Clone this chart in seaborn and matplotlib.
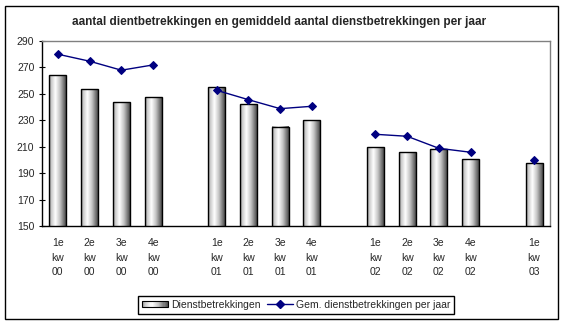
import numpy as np
import pandas as pd
import matplotlib
matplotlib.use("Agg")
import matplotlib.pyplot as plt
import seaborn as sns
from matplotlib.patches import Rectangle
from matplotlib.lines import Line2D
from matplotlib.legend_handler import HandlerBase
from matplotlib.colors import LinearSegmentedColormap

# ---- data ----
labels = ["1e\nkw\n00", "2e\nkw\n00", "3e\nkw\n00", "4e\nkw\n00", "",
          "1e\nkw\n01", "2e\nkw\n01", "3e\nkw\n01", "4e\nkw\n01", "",
          "1e\nkw\n02", "2e\nkw\n02", "3e\nkw\n02", "4e\nkw\n02", "",
          "1e\nkw\n03"]
year = ["00", "00", "00", "00", "g1",
        "01", "01", "01", "01", "g2",
        "02", "02", "02", "02", "g3",
        "03"]
dienst = [264, 253.5, 243.6, 247.4, np.nan,
          255, 242, 225.2, 230, np.nan,
          209.6, 205.8, 208, 200.5, np.nan,
          197.5]
gem = [280, 274.7, 267.9, 271.9, np.nan,
       252.7, 245.6, 238.8, 240.6, np.nan,
       219.4, 217.9, 208.8, 205.8, np.nan,
       199.7]
yticks = [150, 170, 190, 210, 230, 250, 270, 290]
title = "aantal dientbetrekkingen en gemiddeld aantal dienstbetrekkingen per jaar"
leg_bar = "Dienstbetrekkingen"
leg_line = "Gem. dienstbetrekkingen per jaar"

pos = list(range(len(labels)))
df = pd.DataFrame({"pos": pos, "label": labels, "year": year,
                   "dienst": dienst, "gem": gem})

sns.set_theme(style="white")
plt.rcParams["font.family"] = ["Liberation Sans", "DejaVu Sans"]
FS = 7.5
YMIN, YMAX = yticks[0], yticks[-1]

fig = plt.figure(figsize=(5.65, 3.25), dpi=100)
ax = fig.add_axes([42 / 565, 1 - 226 / 325, 508 / 565, 185 / 325])

sns.barplot(data=df, x="pos", y="dienst", order=pos, width=0.53,
            color="white", edgecolor="black", linewidth=1.0, ax=ax,
            errorbar=None, zorder=2)

grad_cmap = LinearSegmentedColormap.from_list(
    "cyl", [(0.0, "#8a8a8a"), (0.12, "#c8c8c8"), (0.38, "#ffffff"),
            (0.65, "#c4c4c4"), (1.0, "#4c4c4c")])
grad = np.linspace(0, 1, 64).reshape(1, -1)

for p in list(ax.patches):
    h = p.get_height()
    if not np.isfinite(h) or h == 0:
        continue
    x0 = p.get_x()
    w = p.get_width()
    p.set_facecolor("none")
    p.set_zorder(3)
    ax.imshow(grad, cmap=grad_cmap, aspect="auto",
              extent=[x0, x0 + w, YMIN, h], zorder=2.2,
              interpolation="bilinear")

line_df = df.dropna(subset=["gem"])
sns.lineplot(data=line_df, x="pos", y="gem", units="year", estimator=None,
             color="#000080", linewidth=1.0, marker="D", markersize=4.5,
             markeredgecolor="#000080", markerfacecolor="#000080",
             legend=False, ax=ax, zorder=4)

ax.set_xlim(-0.5, len(labels) - 0.5)
ax.set_ylim(YMIN, YMAX)
ax.set_yticks(yticks)
ax.set_yticklabels([str(v) for v in yticks], fontsize=FS)
ax.set_xticks(pos)
ax.set_xticklabels(labels, fontsize=FS, linespacing=1.55)
ax.set_xticks(np.arange(-0.5, len(labels), 1.0), minor=True)
ax.tick_params(axis="x", which="major", length=0, pad=9)
ax.tick_params(axis="x", which="minor", length=5, width=0.8,
               direction="inout", color="black")
ax.tick_params(axis="y", which="major", length=5, width=0.8,
               direction="inout", color="black", pad=3, left=True)
ax.set_xlabel("")
ax.set_ylabel("")
for side in ["left", "bottom"]:
    ax.spines[side].set_color("black")
    ax.spines[side].set_linewidth(1.0)
for side in ["top", "right"]:
    ax.spines[side].set_visible(True)
    ax.spines[side].set_color("#808080")
    ax.spines[side].set_linewidth(1.0)
ax.grid(False)

fig.text(279 / 565, 1 - 22 / 325, title, ha="center", va="center",
         fontsize=8.5, fontweight="bold")

# outer frame
fig.patches.append(Rectangle((5 / 565, 1 - 319 / 325), 553 / 565, 313 / 325,
                             transform=fig.transFigure, fill=False,
                             edgecolor="black", linewidth=1.0))


class GradientHandler(HandlerBase):
    def create_artists(self, legend, orig_handle, xdescent, ydescent,
                       width, height, fontsize, trans):
        arts = []
        n = 24
        hh = height * 0.8
        y0 = -ydescent + (height - hh) / 2
        for i in range(n):
            c = grad_cmap((i + 0.5) / n)
            arts.append(Rectangle((-xdescent + width * i / n, y0), width / n, hh,
                                  facecolor=c, edgecolor="none", transform=trans))
        arts.append(Rectangle((-xdescent, y0), width, hh, facecolor="none",
                              edgecolor="black", linewidth=0.8, transform=trans))
        return arts


bar_handle = Rectangle((0, 0), 1, 1)
line_handle = Line2D([], [], color="#000080", linewidth=1.0, marker="D",
                     markersize=4.5, markerfacecolor="#000080",
                     markeredgecolor="#000080")
leg = fig.legend([bar_handle, line_handle], [leg_bar, leg_line],
                 handler_map={Rectangle: GradientHandler()},
                 loc="center", bbox_to_anchor=(296 / 565, 1 - 305 / 325),
                 ncol=2, fontsize=FS, frameon=True, fancybox=False,
                 edgecolor="black", framealpha=1, handlelength=2.5,
                 columnspacing=0.6, handletextpad=0.3, borderpad=0.35,
                 borderaxespad=0)
leg.get_frame().set_linewidth(1.0)

fig.savefig("out.png", dpi=100)
